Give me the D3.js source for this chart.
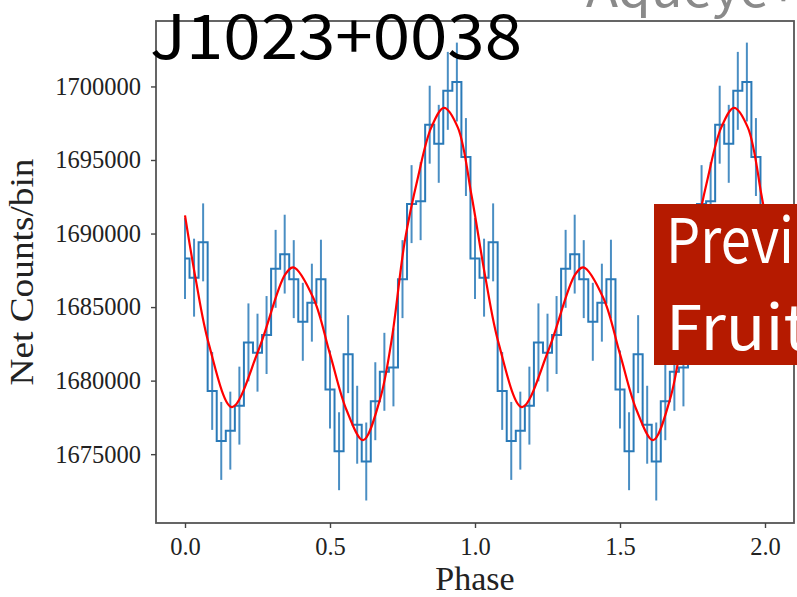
<!DOCTYPE html>
<html>
<head>
<title>J1023+0038</title>
<style>
body { margin: 0; background: #fff; }
.xaxis text, .yaxis text {
    font-family: "Liberation Serif", serif;
    font-size: 24.5px;
    fill: #222;
}
.xaxis path, .yaxis path { display: none; }
.xaxis line, .yaxis line { stroke: #444; stroke-width: 1.4; }
.data path.step { fill: none; stroke: #2a7ab8; stroke-width: 2; }
.data line.err { stroke: #2a7ab8; stroke-width: 2; stroke-opacity: 0.85; }
path.model { fill: none; stroke: #ff0000; stroke-width: 2.2; }
</style>
</head>
<body>
<div id="chart"></div>
<script src="https://cdn.jsdelivr.net/npm/d3@7"></script>
<script>
    var dimensions = { width: 797, height: 597 };
    var frame = { left: 156, right: 794, top: 21, bottom: 523 };

    // folded light curve, 32 bins per cycle (plotted twice)
    var binsPerCycle = 32;
    var counts = [1688300, 1687000, 1689400, 1679300, 1675900, 1676600, 1678300, 1682600,
                  1681900, 1683100, 1687600, 1688600, 1686900, 1684000, 1685300, 1686900,
                  1679400, 1675200, 1681800, 1677000, 1674500, 1678600, 1680600, 1680900,
                  1686900, 1692000, 1692200, 1697400, 1696100, 1699700, 1700300, 1695200];
    var errors = [2750, 2650, 2650, 2650, 2650, 2650, 2650, 2650,
                  2650, 2650, 2650, 2680, 2650, 2650, 2650, 2680,
                  2650, 2650, 2650, 2650, 2650, 2650, 2650, 2650,
                  2650, 2650, 2650, 2650, 2650, 2650, 2680, 2650];

    // fitted model for one cycle
    var modelPhase = [0, 0.036, 0.082, 0.162, 0.254, 0.345, 0.374, 0.443, 0.5, 0.557,
                      0.614, 0.672, 0.712, 0.758, 0.803, 0.849, 0.893, 0.941, 0.987];
    var modelCounts = [1691240, 1687000, 1682500, 1678200, 1682100, 1687200, 1687700, 1685600, 1681800, 1678000,
                       1675950, 1678700, 1682700, 1689500, 1693800, 1697200, 1698550, 1697200, 1692700];

    var xDomain = [-0.1, 2.1];
    var yDomain = [1670320, 1704450];
    var xTicks = [0, 0.5, 1.0, 1.5, 2.0];
    var yTicks = [1675000, 1680000, 1685000, 1690000, 1695000, 1700000];

    var title = "J1023+0038";
    var xLabel = "Phase";
    var yLabel = "Net Counts/bin";
    var boxLines = ["Previ", "Fruit"];

    // two cycles plus the closing bin at phase 2.0
    var points = [];
    for (var c = 0; c < 2; c++) {
        counts.forEach(function(v, i) {
            points.push({ phase: c + i / binsPerCycle, v: v, e: errors[i] });
        });
    }
    points.push({ phase: 2, v: counts[0], e: errors[0] });

    var model = [];
    for (var c = 0; c < 2; c++) {
        modelPhase.forEach(function(p, i) {
            model.push({ phase: c + p, v: modelCounts[i] });
        });
    }
    model.push({ phase: 2, v: modelCounts[0] });

    var xscale = d3.scaleLinear().domain(xDomain).range([frame.left, frame.right]);
    var yscale = d3.scaleLinear().domain(yDomain).range([frame.bottom, frame.top]);

    var svg = d3.select("#chart").append("svg")
        .attr("width", dimensions.width)
        .attr("height", dimensions.height);

    svg.append("rect")
        .attr("width", dimensions.width).attr("height", dimensions.height)
        .attr("fill", "#fff");

    // top-right caption, cut off by the edge
    svg.append("text")
        .attr("x", 586).attr("y", 7)
        .attr("font-family", "Noto Sans CJK JP")
        .attr("font-size", 50)
        .attr("fill", "#8a8a8a")
        .attr("textLength", 212)
        .attr("lengthAdjust", "spacingAndGlyphs")
        .text("Aqueye+");

    var gdata = svg.append("g").attr("class", "data");
    gdata.append("path")
        .attr("class", "step")
        .attr("d", d3.line()
            .curve(d3.curveStep)
            .x(function(d) { return xscale(d.phase); })
            .y(function(d) { return yscale(d.v); })(points));
    gdata.selectAll("line.err")
        .data(points)
        .enter().append("line")
        .attr("class", "err")
        .attr("x1", function(d) { return xscale(d.phase); })
        .attr("x2", function(d) { return xscale(d.phase); })
        .attr("y1", function(d) { return yscale(d.v - d.e); })
        .attr("y2", function(d) { return yscale(d.v + d.e); });

    svg.append("path")
        .attr("class", "model")
        .attr("d", d3.line()
            .curve(d3.curveCatmullRom.alpha(0.5))
            .x(function(d) { return xscale(d.phase); })
            .y(function(d) { return yscale(d.v); })(model));

    svg.append("rect")
        .attr("x", frame.left).attr("y", frame.top)
        .attr("width", frame.right - frame.left)
        .attr("height", frame.bottom - frame.top)
        .attr("fill", "none")
        .attr("stroke", "#555")
        .attr("stroke-width", 1.8);

    svg.append("g")
        .attr("class", "xaxis")
        .attr("transform", "translate(0," + frame.bottom + ")")
        .call(d3.axisBottom(xscale).tickValues(xTicks).tickFormat(d3.format(".1f"))
            .tickSize(5).tickPadding(10));
    svg.append("g")
        .attr("class", "yaxis")
        .attr("transform", "translate(" + frame.left + ",0)")
        .call(d3.axisLeft(yscale).tickValues(yTicks).tickFormat(d3.format("d"))
            .tickSize(5).tickPadding(10));
    svg.selectAll(".xaxis text, .yaxis text").attr("font-family", null).attr("font-size", null);

    svg.append("text")
        .attr("x", 475).attr("y", 590)
        .attr("text-anchor", "middle")
        .attr("font-family", "Liberation Serif")
        .attr("font-size", 34)
        .attr("fill", "#222")
        .text(xLabel);
    svg.append("text")
        .attr("transform", "translate(33,272) rotate(-90)")
        .attr("text-anchor", "middle")
        .attr("font-family", "Liberation Serif")
        .attr("font-size", 33)
        .attr("fill", "#222")
        .attr("textLength", 227)
        .attr("lengthAdjust", "spacingAndGlyphs")
        .text(yLabel);

    svg.append("text")
        .attr("x", 150).attr("y", 59)
        .attr("font-family", "Noto Sans CJK JP")
        .attr("font-size", 62)
        .attr("fill", "#000")
        .attr("textLength", 372)
        .attr("lengthAdjust", "spacingAndGlyphs")
        .text(title);

    // red overlay box, cut off at the right edge
    svg.append("rect")
        .attr("x", 654).attr("y", 204)
        .attr("width", 160).attr("height", 161)
        .attr("fill", "#b51a00");
    svg.selectAll("text.box")
        .data(boxLines)
        .enter().append("text")
        .attr("class", "box")
        .attr("x", 666)
        .attr("y", function(d, i) { return 263 + i * 87; })
        .attr("font-family", "Noto Sans CJK JP")
        .attr("font-size", 62)
        .attr("fill", "#fff")
        .attr("textLength", function(d, i) { return i === 0 ? 128 : 142; })
        .attr("lengthAdjust", "spacingAndGlyphs")
        .text(function(d) { return d; });
</script>
</body>
</html>
